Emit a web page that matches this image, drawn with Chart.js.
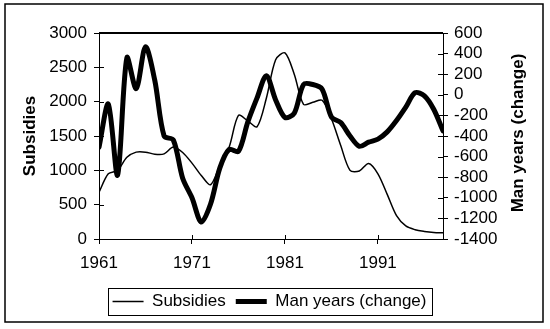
<!DOCTYPE html>
<html>
<head>
<meta charset="utf-8">
<script src="https://cdn.jsdelivr.net/npm/chart.js@4/dist/chart.umd.min.js"></script>
<style>
  html, body { margin: 0; padding: 0; background: #fff; }
  #wrap { width: 550px; height: 329px; }
</style>
</head>
<body>
<div id="wrap"><canvas id="c" width="550" height="329"></canvas></div>
<script>
// Years on the horizontal axis
const years = [1961, 1962, 1963, 1964, 1965, 1966, 1967, 1968, 1969, 1970,
               1971, 1972, 1973, 1974, 1975, 1976, 1977, 1978, 1979, 1980,
               1981, 1982, 1983, 1984, 1985, 1986, 1987, 1988, 1989, 1990,
               1991, 1992, 1993, 1994, 1995, 1996, 1997, 1998];

// Subsidies (left axis)
const subsidies = [680, 950, 1000, 1190, 1265, 1265, 1235, 1240, 1340, 1260,
                   1105, 925, 790, 1070, 1340, 1800, 1720, 1635, 2050, 2610,
                   2710, 2400, 1960, 1990, 2020, 1750, 1360, 1000, 990, 1100,
                   950, 650, 340, 190, 135, 110, 95, 90];

// Man years, change (right axis)
const manYears = [-510, -90, -780, 360, 60, 465, 140, -400, -440, -810,
                  -1000, -1235, -1060, -710, -530, -550, -265, -30, 185, -50,
                  -220, -180, 100, 100, 55, -215, -270, -400, -500, -460,
                  -430, -360, -250, -120, 20, -10, -140, -350];

// Labelled year ticks
const xTickYears = [1961, 1971, 1981, 1991];

const FONT = "'Liberation Sans', Arial, Helvetica, sans-serif";
Chart.defaults.font.family = FONT;
Chart.defaults.font.size = 17;
Chart.defaults.color = '#000';

const tickFont = { family: FONT, size: 17 };

function seg(ctx, x1, y1, x2, y2) {
  ctx.beginPath();
  ctx.moveTo(x1, y1);
  ctx.lineTo(x2, y2);
  ctx.stroke();
}

// Frame, crossing tick marks, right-hand title and legend box
const frame = {
  id: 'frame',
  afterDraw(chart) {
    const { ctx, chartArea: a, scales } = chart;
    ctx.save();
    ctx.strokeStyle = '#000';

    // solid top edge of the plot area
    ctx.lineWidth = 2;
    seg(ctx, a.left, a.top, a.right, a.top);

    // inner halves of the tick marks
    ctx.lineWidth = 1;
    scales.y.ticks.forEach(t => {
      const p = Math.round(scales.y.getPixelForValue(t.value)) + 0.5;
      seg(ctx, a.left, p, a.left + 5, p);
    });
    scales.y1.ticks.forEach(t => {
      const p = Math.round(scales.y1.getPixelForValue(t.value)) + 0.5;
      seg(ctx, a.right - 5, p, a.right, p);
    });
    scales.x.ticks.forEach(t => {
      const p = Math.round(scales.x.getPixelForValue(t.value)) + 0.5;
      seg(ctx, p, a.bottom - 4, p, a.bottom);
    });

    // right axis title, reading upward
    ctx.save();
    ctx.translate(518, (a.top + a.bottom) / 2 - 3);
    ctx.rotate(-Math.PI / 2);
    ctx.fillStyle = '#000';
    ctx.font = 'bold 17px ' + FONT;
    ctx.textAlign = 'center';
    ctx.textBaseline = 'middle';
    ctx.fillText('Man years (change)', 0, 0);
    ctx.restore();

    // box around the legend
    const boxes = chart.legend.legendHitBoxes;
    if (boxes && boxes.length) {
      const first = boxes[0], last = boxes[boxes.length - 1];
      const l = Math.round(first.left - 5) + 0.5;
      const r = Math.round(last.left + last.width + 6) + 0.5;
      const t = Math.round(first.top - 5) + 0.5;
      const b = Math.round(first.top + first.height + 5) + 0.5;
      ctx.lineWidth = 1;
      ctx.strokeRect(l, t, r - l, b - t);
    }

    // outer border of the figure
    ctx.lineWidth = 1.5;
    ctx.strokeRect(5, 4, 538, 318);
    ctx.restore();
  }
};

new Chart(document.getElementById('c'), {
  type: 'line',
  data: {
    datasets: [
      {
        label: 'Subsidies',
        data: years.map((yr, i) => ({ x: yr, y: subsidies[i] })),
        yAxisID: 'y',
        borderColor: '#000',
        backgroundColor: '#000',
        borderWidth: 1.5,
        tension: 0.3,
        pointRadius: 0,
        borderCapStyle: 'round',
        borderJoinStyle: 'round',
        fill: false
      },
      {
        label: 'Man years (change)',
        data: years.map((yr, i) => ({ x: yr, y: manYears[i] })),
        yAxisID: 'y1',
        borderColor: '#000',
        backgroundColor: '#000',
        borderWidth: 5,
        tension: 0.3,
        pointRadius: 0,
        borderCapStyle: 'round',
        borderJoinStyle: 'round',
        fill: false
      }
    ]
  },
  options: {
    responsive: false,
    animation: false,
    devicePixelRatio: 1,
    layout: { padding: { top: 33, left: 0, right: 11, bottom: 9 } },
    plugins: {
      legend: {
        position: 'bottom',
        labels: {
          usePointStyle: true,
          pointStyle: 'line',
          pointStyleWidth: 31,
          font: { family: FONT, size: 17 },
          padding: 10,
          color: '#000'
        }
      },
      tooltip: { enabled: false }
    },
    scales: {
      x: {
        type: 'linear',
        min: 1961,
        max: 1998,
        afterBuildTicks: s => { s.ticks = xTickYears.map(v => ({ value: v })); },
        afterFit: s => { s.height = 44; },
        grid: { drawOnChartArea: false, color: '#000', tickColor: '#000', tickLength: 5 },
        border: { color: '#000', width: 1 },
        ticks: { font: tickFont, padding: 9, maxRotation: 0, autoSkip: false, color: '#000',
                 callback: v => String(v) }
      },
      y: {
        position: 'left',
        min: 0,
        max: 3000,
        afterFit: s => { s.width = 99; },
        grid: { drawOnChartArea: false, color: '#000', tickColor: '#000', tickLength: 5 },
        border: { color: '#000', width: 1 },
        ticks: { stepSize: 500, font: tickFont, padding: 7, autoSkip: false, color: '#000',
                 callback: v => String(v) },
        title: { display: true, text: 'Subsidies', color: '#000',
                 font: { family: FONT, size: 17, weight: 'bold' }, padding: { top: 20, bottom: 0 } }
      },
      y1: {
        position: 'right',
        min: -1400,
        max: 600,
        afterFit: s => { s.width = 96; },
        grid: { drawOnChartArea: false, color: '#000', tickColor: '#000', tickLength: 5 },
        border: { color: '#000', width: 1 },
        ticks: { stepSize: 200, font: tickFont, padding: 6, autoSkip: false, color: '#000',
                 callback: v => String(v) }
      }
    }
  },
  plugins: [frame]
});
</script>
</body>
</html>
